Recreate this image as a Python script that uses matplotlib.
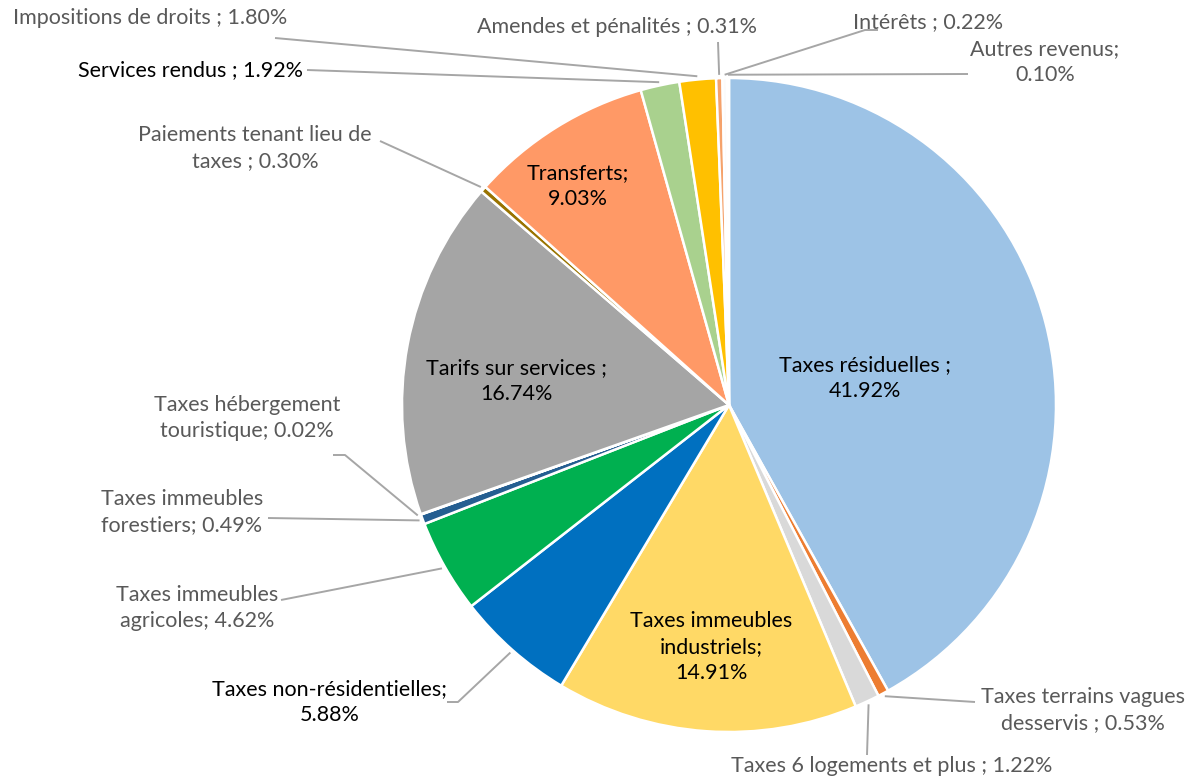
import math

import matplotlib
matplotlib.use("Agg")
import matplotlib.pyplot as plt

# slices, clockwise from 12 o'clock
labels = [
    "Taxes résiduelles ;\n41.92%",
    "Taxes terrains vagues\ndesservis ; 0.53%",
    "Taxes 6 logements et plus ; 1.22%",
    "Taxes immeubles\nindustriels;\n14.91%",
    "Taxes non-résidentielles;\n5.88%",
    "Taxes immeubles\nagricoles; 4.62%",
    "Taxes immeubles\nforestiers; 0.49%",
    "Taxes hébergement\ntouristique; 0.02%",
    "Tarifs sur services ;\n16.74%",
    "Paiements tenant lieu de\ntaxes ; 0.30%",
    "Transferts;\n9.03%",
    "Services rendus ; 1.92%",
    "Impositions de droits ; 1.80%",
    "Amendes et pénalités ; 0.31%",
    "Intérêts ; 0.22%",
    "Autres revenus;\n0.10%",
]
values = [41.92, 0.53, 1.22, 14.91, 5.88, 4.62, 0.49, 0.02,
          16.74, 0.30, 9.03, 1.92, 1.80, 0.31, 0.22, 0.10]
colors = ["#9DC3E6", "#ED7D31", "#D9D9D9", "#FFD966", "#0070C0", "#00B050",
          "#255E91", "#636363", "#A5A5A5", "#997300", "#FF9966", "#A9D18E",
          "#FFC000", "#F5A26B", "#FBFBFB", "#F7F7F7"]

W, H = 1194, 782
CX, CY, R = 729, 405, 327   # pixel coords, y from top
GRAY_TXT = "#595959"
LINE = "#A6A6A6"

plt.rcParams["font.family"] = ["Lato", "DejaVu Sans"]


def Y(py):
    return H - py


fig = plt.figure(figsize=(W / 100, H / 100), dpi=100)
ax = fig.add_axes([0, 0, 1, 1])
ax.pie(values, colors=colors, startangle=90, counterclock=False,
       center=(CX, Y(CY)), radius=R,
       wedgeprops=dict(edgecolor="white", linewidth=1.8))
ax.set_xlim(0, W)
ax.set_ylim(0, H)
ax.set_aspect("equal")
ax.axis("off")

total = sum(values)


def anchor(i, rf=1.0):
    before = sum(values[:i])
    th = math.radians(90 - 360 * (before + values[i] / 2) / total)
    return CX + R * rf * math.cos(th), CY - R * rf * math.sin(th)


# label positions (pixel, text centre), text colour, leader elbow points
layout = {
    0: ((865, 378), "black", None),
    1: ((1083, 710), GRAY_TXT, [(975, 702)]),
    2: ((892, 766), GRAY_TXT, [(867, 755)]),
    3: ((711, 647), "black", None),
    4: ((330, 702), "black", [(447, 702), (458, 702)]),
    5: ((197, 608), GRAY_TXT, [(281, 600)]),
    6: ((182, 512), GRAY_TXT, [(268, 518)]),
    7: ((247, 418), GRAY_TXT, [(333, 455), (345, 455)]),
    8: ((516, 381), "black", None),
    9: ((255, 148), GRAY_TXT, [(380, 141)]),
    10: ((578, 186), "black", None),
    11: ((190, 70), "black", [(307, 70)]),
    12: ((150, 18), GRAY_TXT, [(275, 38)]),
    13: ((617, 27), GRAY_TXT, [(718, 42)]),
    14: ((928, 22), GRAY_TXT, [(878, 30), (865, 30)]),
    15: ((1045, 62), GRAY_TXT, [(968, 74)]),
}

for i, lab in enumerate(labels):
    (tx, ty), tc, elbow = layout[i]
    ax.text(tx, Y(ty), lab, ha="center", va="center", fontsize=15.5,
            color=tc, linespacing=1.36)
    if elbow:
        ax_, ay_ = anchor(i, 1.01)
        pts = elbow + [(ax_, ay_)]
        ax.plot([p[0] for p in pts], [Y(p[1]) for p in pts],
                color=LINE, lw=1.4, solid_capstyle="butt")

fig.savefig("out.png", dpi=100)
